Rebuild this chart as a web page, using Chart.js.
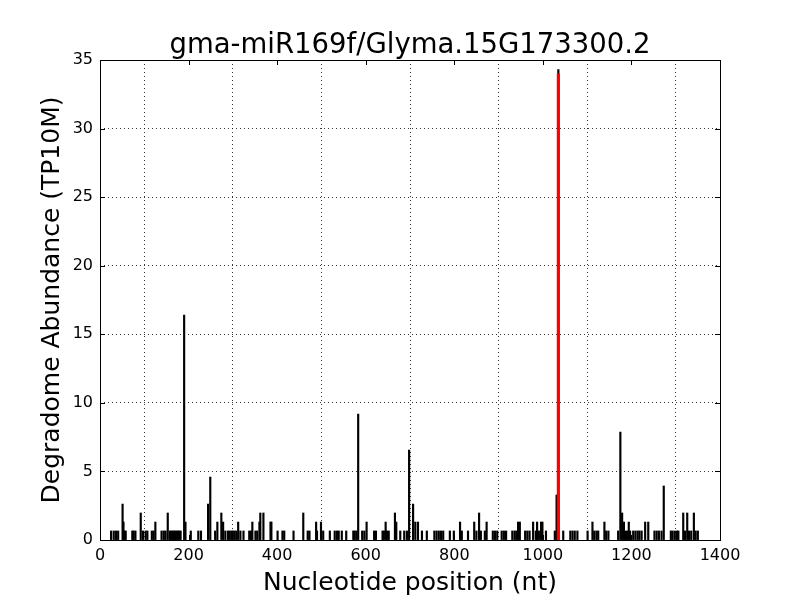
<!DOCTYPE html>
<html>
<head>
<meta charset="utf-8">
<script src="https://cdn.jsdelivr.net/npm/chart.js@4"></script>
<style>
  body { margin: 0; background: #fff; }
</style>
</head>
<body>
<canvas id="chart" width="800" height="600"></canvas>
<script>
// Degradome reads, nucleotide position -> abundance (TP10M)
const positions = [25, 31, 36, 41, 51, 53, 55, 58, 73, 76, 80, 92, 97, 103, 107, 117, 121, 125, 139, 144,
    148, 153, 158, 161, 164, 167, 170, 173, 176, 179, 182, 190, 193, 205, 222, 228, 244, 249, 260, 265,
    274, 278, 283, 289, 293, 297, 300, 304, 308, 312, 317, 324, 337, 341, 344, 351, 355, 360, 362, 369,
    385, 387, 401, 412, 416, 437, 459, 469, 473, 488, 490, 499, 504, 519, 530, 535, 539, 546, 556, 572,
    575, 579, 583, 592, 597, 602, 619, 623, 638, 641, 645, 648, 652, 666, 669, 678, 687, 693, 698, 707,
    712, 718, 727, 738, 755, 760, 765, 770, 775, 790, 799, 813, 817, 831, 845, 850, 856, 860, 869, 873,
    887, 892, 897, 907, 912, 917, 931, 936, 940, 944, 948, 960, 965, 970, 978, 984, 987, 991, 996, 999,
    1007, 1027, 1031, 1035, 1046, 1062, 1067, 1072, 1078, 1101, 1112, 1116, 1121, 1125, 1139, 1143, 1148, 1170, 1175, 1179,
    1183, 1186, 1190, 1194, 1197, 1204, 1209, 1214, 1218, 1223, 1231, 1238, 1252, 1257, 1262, 1268, 1273, 1289, 1293, 1298,
    1303, 1306, 1317, 1321, 1326, 1330, 1335, 1341, 1345, 1350];
const abundance = [0.66, 0.66, 0.66, 0.66, 2.62, 1.31, 0.66, 0.66, 0.66, 0.66, 0.66, 1.97, 0.66, 0.66, 0.66, 0.66, 0.66, 1.31, 0.66, 0.66,
    0.66, 1.97, 0.66, 0.66, 0.66, 0.66, 0.66, 0.66, 0.66, 0.66, 0.66, 16.4, 1.31, 0.66, 0.66, 0.66, 2.62, 4.59, 0.66, 1.31,
    1.97, 1.31, 0.66, 0.66, 0.66, 0.66, 0.66, 0.66, 0.66, 1.31, 0.66, 0.66, 0.66, 0.66, 1.31, 0.66, 0.66, 1.31, 1.97, 1.97,
    1.31, 1.31, 0.66, 0.66, 0.66, 0.66, 1.97, 0.66, 0.66, 1.31, 0.66, 1.31, 0.66, 0.66, 0.66, 0.66, 0.66, 0.66, 0.66, 0.66,
    0.66, 0.66, 9.18, 0.66, 0.66, 1.31, 0.66, 0.66, 0.66, 0.66, 1.31, 0.66, 0.66, 1.97, 1.31, 0.66, 0.66, 0.66, 6.56, 2.62,
    1.31, 1.31, 0.66, 0.66, 0.66, 0.66, 0.66, 0.66, 0.66, 0.66, 0.66, 1.31, 0.66, 0.66, 1.31, 0.66, 1.97, 0.66, 0.66, 1.31,
    0.66, 0.66, 0.66, 0.66, 0.66, 0.66, 0.66, 0.66, 0.66, 1.31, 1.31, 0.66, 0.66, 0.66, 1.31, 0.66, 1.31, 0.66, 1.31, 1.31,
    0.66, 0.66, 3.28, 34.3, 0.66, 0.66, 0.66, 0.66, 0.66, 0.66, 1.31, 0.66, 0.66, 0.66, 1.31, 0.66, 0.66, 0.66, 7.87, 1.97,
    1.31, 0.66, 0.66, 1.31, 0.66, 0.66, 0.66, 0.66, 0.66, 0.66, 1.31, 1.31, 0.66, 0.66, 0.66, 0.66, 3.94, 0.66, 0.66, 0.66,
    0.66, 0.66, 1.97, 0.66, 1.97, 0.66, 0.66, 1.97, 0.66, 0.66];

// predicted cleavage site
const targetPos = [1035];
const targetAbundance = [34.0];

const title = "gma-miR169f/Glyma.15G173300.2";
const xLabel = "Nucleotide position (nt)";
const yLabel = "Degradome Abundance (TP10M)";

const font = "'DejaVu Sans', sans-serif";

// title centred over the plot area, plus matplotlib-style inward ticks and frame
const frame = {
    id: "frame",
    afterDraw(chart) {
        const { ctx, chartArea: a, scales: { x, y } } = chart;
        ctx.save();
        ctx.strokeStyle = "#000";
        ctx.lineWidth = 1;
        ctx.beginPath();
        x.ticks.forEach(t => {
            const px = Math.round(x.getPixelForValue(t.value)) + 0.5;
            ctx.moveTo(px, a.bottom); ctx.lineTo(px, a.bottom - 5);
            ctx.moveTo(px, a.top); ctx.lineTo(px, a.top + 5);
        });
        y.ticks.forEach(t => {
            const py = Math.round(y.getPixelForValue(t.value)) + 0.5;
            ctx.moveTo(a.left, py); ctx.lineTo(a.left + 5, py);
            ctx.moveTo(a.right, py); ctx.lineTo(a.right - 5, py);
        });
        ctx.stroke();
        ctx.strokeRect(Math.round(a.left) + 0.5, Math.round(a.top) + 0.5,
            Math.round(a.right - a.left), Math.round(a.bottom - a.top));

        ctx.fillStyle = "#000";
        ctx.font = "27.5px " + font;
        ctx.textAlign = "center";
        ctx.textBaseline = "alphabetic";
        ctx.fillText(title, (a.left + a.right) / 2, 53);
        ctx.restore();
    }
};

const grid = { color: "#000", lineWidth: 0.8, drawTicks: false };

const config = {
    type: "bar",
    data: {
        datasets: [
            {
                data: targetPos.map((p, i) => ({ x: p, y: targetAbundance[i] })),
                backgroundColor: "#ff0000",
                barThickness: 2.5,
                grouped: false,
                order: 0
            },
            {
                data: positions.map((p, i) => ({ x: p, y: abundance[i] })),
                backgroundColor: "#000000",
                barThickness: 1.5,
                grouped: false,
                order: 1
            }
        ]
    },
    options: {
        responsive: false,
        animation: false,
        layout: { padding: { left: 0, right: 80, top: 60, bottom: 0 } },
        plugins: {
            legend: { display: false },
            tooltip: { enabled: false },
            title: { display: false }
        },
        scales: {
            x: {
                type: "linear",
                offset: false,
                min: 0,
                max: 1400,
                afterFit: s => { s.height = 60; },
                ticks: {
                    stepSize: 200,
                    color: "#000",
                    padding: 6,
                    maxRotation: 0,
                    font: { family: font, size: 16 },
                    callback: v => String(v)
                },
                grid: grid,
                border: { display: false, dash: [1, 3] },
                title: {
                    display: true,
                    text: xLabel,
                    color: "#000",
                    padding: { top: 2, bottom: 2 },
                    font: { family: font, size: 25 }
                }
            },
            y: {
                min: 0,
                max: 35,
                afterFit: s => { s.width = 100; },
                ticks: {
                    stepSize: 5,
                    color: "#000",
                    padding: 7,
                    font: { family: font, size: 16 },
                    callback: v => String(v)
                },
                grid: grid,
                border: { display: false, dash: [1, 3] },
                title: {
                    display: true,
                    text: yLabel,
                    color: "#000",
                    padding: { top: 37, bottom: 0 },
                    font: { family: font, size: 25 }
                }
            }
        }
    },
    plugins: [frame]
};

new Chart(document.getElementById("chart").getContext("2d"), config);
</script>
</body>
</html>
